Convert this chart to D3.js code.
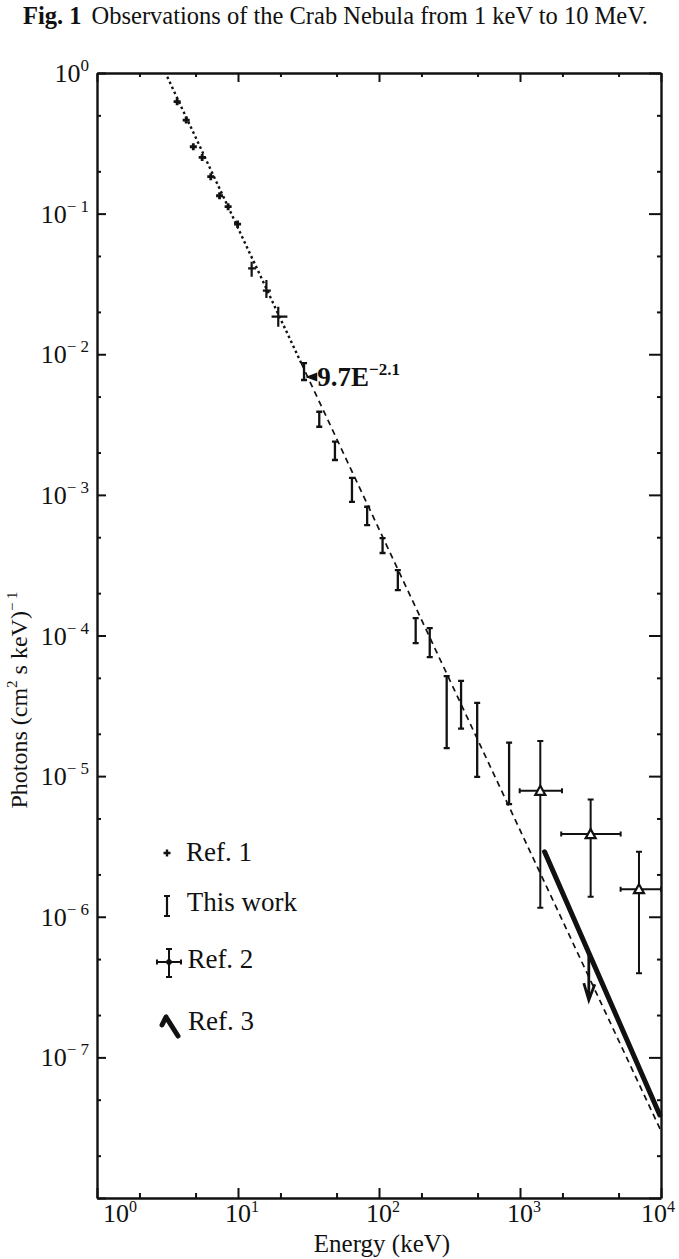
<!DOCTYPE html>
<html>
<head>
<meta charset="utf-8">
<script src="https://cdn.jsdelivr.net/npm/d3@7"></script>
<style>
  body { margin: 0; background: #fff; }
  svg { display: block; font-family: "Liberation Serif", "DejaVu Serif", serif; }
  .domain { stroke: #111; stroke-width: 2.4; }
  .tick line { stroke: #111; stroke-width: 2; }
</style>
</head>
<body>
<div id="chart"></div>
<script>
// Ref. 1 small points: [energy keV, flux]
const ref1Points = [
  [3.70, 0.625], [4.29, 0.463], [4.82, 0.299], [5.57, 0.251],
  [6.41, 0.183], [7.40, 0.134], [8.51, 0.112], [9.93, 0.0843]
];
// Ref. 1 points with bars: [energy, flux, eLo, eHi, fLo, fHi]
const ref1Bars = [
  [12.5, 0.0408, 11.8, 13.4, 0.0356, 0.0455],
  [15.9, 0.0283, 15.0, 17.1, 0.0251, 0.0337],
  [19.3, 0.0185, 17.3, 22.4, 0.0157, 0.0218]
];
// This work: [energy, fLo, fHi]
const thisWork = [
  [29.4, 6.56e-3, 8.65e-3],
  [37.7, 3.05e-3, 3.90e-3],
  [48.7, 1.77e-3, 2.39e-3],
  [64.3, 8.93e-4, 1.32e-3],
  [82.4, 6.10e-4, 8.23e-4],
  [106, 3.86e-4, 4.93e-4],
  [136, 2.10e-4, 2.92e-4],
  [182, 8.83e-5, 1.33e-4],
  [229, 7.02e-5, 1.13e-4],
  [302, 1.58e-5, 5.14e-5],
  [382, 2.18e-5, 4.76e-5],
  [497, 9.89e-6, 3.32e-5],
  [837, 6.32e-6, 1.73e-5]
];
// Ref. 2: [energy, flux, eLo, eHi, fLo, fHi]
const ref2 = [
  [1393, 7.86e-6, 995, 1985, 1.16e-6, 1.78e-5],
  [3170, 3.87e-6, 1960, 5175, 1.39e-6, 6.83e-6],
  [6980, 1.57e-6, 5170, 10000, 3.97e-7, 2.90e-6]
];
// Ref. 3 line and upper-limit arrow [energy, fTop, fBottom]
const ref3Line = [[1494, 2.9e-6], [9800, 3.9e-8]];
const ref3Limit = [3076, 5.5e-7, 2.55e-7];
// power-law fit 9.7E^-2.1 (dotted part, then dashed)
const fitLine = [[3.15, 0.94], [28, 8.7e-3], [1e4, 3.0e-8]];
const fitLabelAt = [30, 6.9e-3];

const xMajor = [1, 10, 100, 1000, 10000];
const xMinor = [2, 5, 20, 50, 200, 500, 2000, 5000];
const xLabelExp = [0, 1, 2, 3, 4];
const yMajor = [1, 1e-1, 1e-2, 1e-3, 1e-4, 1e-5, 1e-6, 1e-7, 1e-8];
const yMinor = [5e-1, 2e-1, 5e-2, 2e-2, 5e-3, 2e-3, 5e-4, 2e-4, 5e-5, 2e-5,
  5e-6, 2e-6, 5e-7, 2e-7, 5e-8, 2e-8];
const yLabelExp = [0, -1, -2, -3, -4, -5, -6, -7];
const legendLabels = ["Ref. 1", "This work", "Ref. 2", "Ref. 3"];

const width = 679, height = 1259;
const frame = { left: 97, right: 661, top: 73, bottom: 1198 };

const svg = d3.select("#chart").append("svg")
  .attr("width", width).attr("height", height)
  .attr("viewBox", [0, 0, width, height]);

const x = d3.scaleLog().domain([1, 1e4]).range([frame.left, frame.right]);
const y = d3.scaleLog().domain([1e-8, 1]).range([frame.bottom, frame.top]);

// title
const title = svg.append("text").attr("x", 23).attr("y", 24).attr("font-size", 24.5).attr("fill", "#111");
title.append("tspan").attr("font-weight", "bold").text("Fig. 1");
title.append("tspan").attr("dx", 10).text("Observations of the Crab Nebula from 1 keV to 10 MeV.");

// axes on four sides, ticks pointing inward
function side(axisFn, scale, pos, major, minor, majorLen, minorLen) {
  const g = svg.append("g").attr("transform", pos);
  g.append("g").call(axisFn(scale).tickValues(major).tickSize(-majorLen).tickSizeOuter(0).tickFormat(""));
  g.append("g").call(axisFn(scale).tickValues(minor).tickSize(-minorLen).tickSizeOuter(0).tickFormat(""))
    .call(s => s.select(".domain").remove());
}
side(d3.axisBottom, x, `translate(0,${frame.bottom})`, xMajor, xMinor, 10, 5);
side(d3.axisTop, x, `translate(0,${frame.top})`, xMajor, xMinor, 9, 4);
side(d3.axisLeft, y, `translate(${frame.left},0)`, yMajor, yMinor, 9, 4);
side(d3.axisRight, y, `translate(${frame.right},0)`, yMajor, yMinor, 12, 4);

function power(text, exp, supSize, rise) {
  text.append("tspan").text("10");
  text.append("tspan").attr("font-size", supSize).attr("dy", -rise)
    .text(exp < 0 ? "\u2212 " + (-exp) : String(exp));
}

// x tick labels
svg.append("g").selectAll("text").data(xLabelExp).join("text")
  .attr("x", d => Math.min(Math.max(x(Math.pow(10, d)) - 13, frame.left + 6), frame.right - 20))
  .attr("y", 1222).attr("font-size", 26).attr("fill", "#111")
  .each(function (d) { power(d3.select(this), d, 16, 10); });

// y tick labels
svg.append("g").selectAll("text").data(yLabelExp).join("text")
  .attr("x", frame.left - 8).attr("y", d => y(Math.pow(10, d)) + 9)
  .attr("text-anchor", "end").attr("font-size", 26).attr("fill", "#111")
  .each(function (d) { power(d3.select(this), d, 17, 11); });

// axis titles
svg.append("text").attr("x", 382).attr("y", 1252).attr("text-anchor", "middle")
  .attr("font-size", 25).attr("fill", "#111").text("Energy (keV)");

const yTitle = svg.append("text").attr("transform", "translate(27,700) rotate(-90)")
  .attr("text-anchor", "middle").attr("font-size", 24).attr("fill", "#111");
yTitle.append("tspan").text("Photons (cm");
yTitle.append("tspan").attr("font-size", 15).attr("dy", -10).text("2");
yTitle.append("tspan").attr("dy", 10).text(" s keV)");
yTitle.append("tspan").attr("font-size", 15).attr("dy", -10).text("\u2212 1");

const line = d3.line().x(d => x(d[0])).y(d => y(d[1]));
const ink = "#111";

// fit line
svg.append("path").attr("d", line(fitLine.slice(0, 2))).attr("fill", "none")
  .attr("stroke", ink).attr("stroke-width", 2.4).attr("stroke-dasharray", "2.5,3");
svg.append("path").attr("d", line(fitLine.slice(1))).attr("fill", "none")
  .attr("stroke", ink).attr("stroke-width", 1.7).attr("stroke-dasharray", "6,4.5");

// fit label with arrowhead
const lx = x(fitLabelAt[0]), ly = y(fitLabelAt[1]);
svg.append("path").attr("d", `M${lx},${ly}L${lx + 12},${ly - 4.5}L${lx + 12},${ly + 4.5}Z`).attr("fill", ink);
const fitText = svg.append("text").attr("x", lx + 12).attr("y", ly + 9)
  .attr("font-size", 27).attr("font-weight", "bold").attr("fill", ink);
fitText.append("tspan").text("9.7E");
fitText.append("tspan").attr("font-size", 17).attr("dy", -11).text("\u22122.1");

const marks = svg.append("g").attr("stroke", ink).attr("fill", "none");

// Ref. 1
marks.append("g").attr("stroke-width", 2.8).selectAll("path").data(ref1Points).join("path")
  .attr("d", d => `M${x(d[0]) - 3.5},${y(d[1])}h7M${x(d[0])},${y(d[1]) - 3.5}v7`);
marks.append("g").attr("stroke-width", 2.2).selectAll("path").data(ref1Bars).join("path")
  .attr("d", d => `M${x(d[2])},${y(d[1])}H${x(d[3])}M${x(d[0])},${y(d[5])}V${y(d[4])}`);

// This work
marks.append("g").attr("stroke-width", 2.3).selectAll("path").data(thisWork).join("path")
  .attr("d", d => {
    const cx = x(d[0]), t = y(d[2]), b = y(d[1]);
    return `M${cx},${t}V${b}M${cx - 3},${t}h6M${cx - 3},${b}h6`;
  });

// Ref. 2
const r2 = marks.append("g").attr("stroke-width", 2).selectAll("g").data(ref2).join("g");
r2.append("path").attr("d", d => {
  const cx = x(d[0]), cy = y(d[1]), l = x(d[2]), r = x(d[3]), t = y(d[5]), b = y(d[4]);
  return `M${l},${cy}H${r}M${cx},${t}V${b}M${l},${cy - 2.5}v5M${r},${cy - 2.5}v5M${cx - 3},${t}h6M${cx - 3},${b}h6`;
});
r2.append("path").attr("fill", "#fff").attr("stroke-width", 2.2)
  .attr("d", d => {
    const cx = x(d[0]), cy = y(d[1]);
    return `M${cx},${cy - 5}L${cx + 5},${cy + 4}L${cx - 5},${cy + 4}Z`;
  });

// Ref. 3
marks.append("path").attr("d", line(ref3Line)).attr("stroke-width", 5).attr("stroke-linecap", "round");
const ax = x(ref3Limit[0]), aTop = y(ref3Limit[1]), aBot = y(ref3Limit[2]);
marks.append("path").attr("stroke-width", 2.8)
  .attr("d", `M${ax},${aTop}V${aBot}M${ax - 5},${aBot - 17}L${ax},${aBot}L${ax + 6},${aBot - 16}`);

// legend
const legend = svg.append("g").attr("font-size", 27).attr("fill", ink);
const legendY = [861, 911, 968, 1030];
legend.selectAll("text").data(legendLabels).join("text")
  .attr("x", (d, i) => 186 + i * 0.7).attr("y", (d, i) => legendY[i]).text(d => d);
const lg = svg.append("g").attr("stroke", ink).attr("fill", "none");
lg.append("path").attr("stroke-width", 2.4).attr("d", "M163.5,853h7M167,849.5v7");
lg.append("path").attr("stroke-width", 2.2).attr("d", "M167,896V916M164,896h6M164,916h6");
lg.append("path").attr("stroke-width", 2).attr("d", "M157,962H181M169,949V977M166,949h6M166,977h6M157,959.5v5M181,959.5v5");
lg.append("circle").attr("cx", 169).attr("cy", 962).attr("r", 2.5).attr("fill", ink);
lg.append("path").attr("stroke-width", 5).attr("stroke-linecap", "round")
  .attr("d", "M166,1017L178,1036M166,1017L162,1025");
</script>
</body>
</html>
